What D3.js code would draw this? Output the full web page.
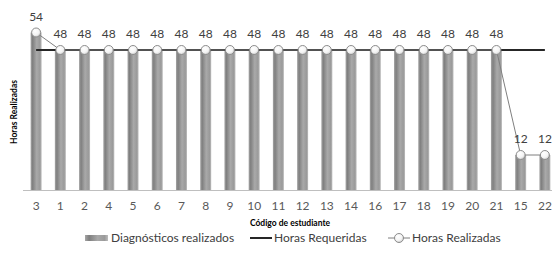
<!DOCTYPE html>
<html><head><meta charset="utf-8">
<script src="https://cdn.jsdelivr.net/npm/d3@7"></script>
<style>body{margin:0;background:#fff}svg{display:block;font-family:Lato,"Open Sans",sans-serif}</style>
</head><body><svg id="c" width="552" height="257"></svg>
<script>
const categories = ["3","1","2","4","5","6","7","8","9","10","11","12","13","14","16","17","18","19","20","21","15","22"];
const diagnosticos = [54,48,48,48,48,48,48,48,48,48,48,48,48,48,48,48,48,48,48,48,12,12];
const horasRequeridas = [48,48,48,48,48,48,48,48,48,48,48,48,48,48,48,48,48,48,48,48,48,48];
const horasRealizadas = [54,48,48,48,48,48,48,48,48,48,48,48,48,48,48,48,48,48,48,48,12,12];
const yDomain = [0, 60];

const svg = d3.select("#c");
const x = d3.scaleBand().domain(categories).range([24, 557]).paddingInner(0).paddingOuter(0);
const y = d3.scaleLinear().domain(yDomain).range([190, 15]);
const cx = c => x(c) + x.bandwidth()/2;
const bw = 11;

const defs = svg.append("defs");
const g = defs.append("linearGradient").attr("id","bar").attr("x1","0").attr("x2","1").attr("y1","0").attr("y2","0");
[[0,"#a6a6a6"],[0.18,"#7f7f7f"],[0.55,"#a9a9a9"],[0.85,"#9a9a9a"],[1,"#bdbdbd"]].forEach(([o,c])=>g.append("stop").attr("offset",o).attr("stop-color",c));

// bars
svg.append("g").selectAll("rect").data(categories).join("rect")
  .attr("x", (c)=>cx(c)-bw/2).attr("width", bw)
  .attr("y", (c,i)=>y(diagnosticos[i])).attr("height",(c,i)=>y(0)-y(diagnosticos[i]))
  .attr("fill","url(#bar)");

// x axis
const xa = svg.append("g").attr("transform",`translate(0,${y(0)})`).call(d3.axisBottom(x).tickSize(0).tickPadding(11));
xa.select(".domain").attr("stroke","#bfbfbf").attr("d","M23,0.5H552");
xa.selectAll("text").attr("font-size","12px").attr("fill","#595959").attr("font-family","Lato,sans-serif");

// required line
svg.append("path").datum(horasRequeridas)
  .attr("d", d3.line().x((d,i)=>cx(categories[i])).y(d=>y(d)))
  .attr("fill","none").attr("stroke","#262626").attr("stroke-width",2);

// realized line
svg.append("path").datum(horasRealizadas)
  .attr("d", d3.line().x((d,i)=>cx(categories[i])).y(d=>y(d)))
  .attr("fill","none").attr("stroke","#7f7f7f").attr("stroke-width",1);

const mg = defs.append("radialGradient").attr("id","mk").attr("cx","0.4").attr("cy","0.35").attr("r","0.7");
mg.append("stop").attr("offset",0).attr("stop-color","#ffffff");
mg.append("stop").attr("offset",0.6).attr("stop-color","#f4f4f4");
mg.append("stop").attr("offset",1).attr("stop-color","#c8c8c8");

svg.append("g").selectAll("circle").data(horasRealizadas).join("circle")
  .attr("cx",(d,i)=>cx(categories[i])).attr("cy",d=>y(d)).attr("r",4.5)
  .attr("fill","url(#mk)").attr("stroke","#8c8c8c").attr("stroke-width",1);

// data labels
svg.append("g").selectAll("text").data(horasRealizadas).join("text")
  .attr("x",(d,i)=>cx(categories[i])).attr("y",d=>y(d)-12)
  .attr("text-anchor","middle").attr("font-size","12px").attr("fill","#404040")
  .text(d=>d);

// axis titles
svg.append("text").attr("x",290).attr("y",226).attr("text-anchor","middle")
  .attr("font-size","8.5px").attr("font-weight","bold").attr("fill","#000").text("Código de estudiante");
svg.append("text").attr("transform","translate(17,112) rotate(-90)").attr("text-anchor","middle")
  .attr("font-size","8.5px").attr("font-weight","bold").attr("fill","#000").text("Horas Realizadas");

// legend
const lg = svg.append("g").attr("font-size","12px").attr("fill","#404040");
lg.append("rect").attr("x",85).attr("y",235).attr("width",23).attr("height",6).attr("fill","url(#bar)");
lg.append("text").attr("x",111).attr("y",242).attr("fill","#404040").text("Diagnósticos realizados");
lg.append("line").attr("x1",250).attr("x2",272).attr("y1",238).attr("y2",238).attr("stroke","#262626").attr("stroke-width",2);
lg.append("text").attr("x",274).attr("y",242).attr("fill","#404040").text("Horas Requeridas");
lg.append("line").attr("x1",388).attr("x2",410).attr("y1",238).attr("y2",238).attr("stroke","#7f7f7f").attr("stroke-width",1);
lg.append("circle").attr("cx",399).attr("cy",238).attr("r",4.5).attr("fill","url(#mk)").attr("stroke","#8c8c8c");
lg.append("text").attr("x",412).attr("y",242).attr("fill","#404040").text("Horas Realizadas");
</script></body></html>
